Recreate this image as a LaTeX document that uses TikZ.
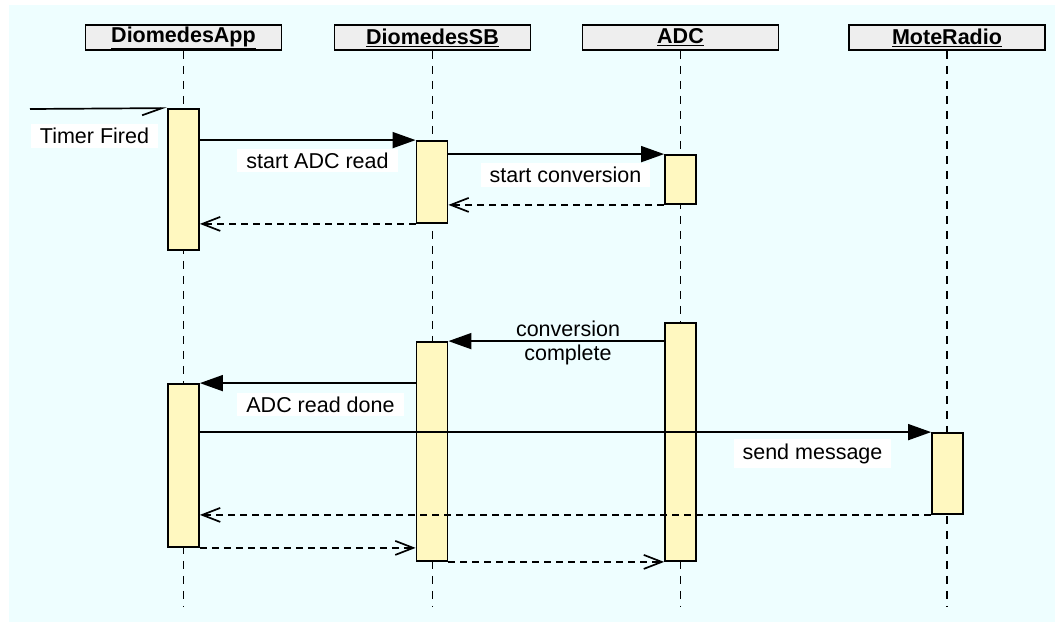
\documentclass[tikz,border=0pt]{standalone}
\usepackage{fontspec}
\setmainfont{Liberation Sans}
\usetikzlibrary{arrows.meta}
\definecolor{seqback}{HTML}{EEFEFF}
\definecolor{seqhead}{HTML}{EEEEEE}
\definecolor{seqbar}{HTML}{FFF8C0}
\tikzset{
    obj/.style={draw,line width=1.8pt,fill=seqhead,minimum width=196pt,minimum height=25pt,inner sep=0pt,font=\fontsize{21.5}{24}\selectfont\bfseries},
    lifeline/.style={line width=1.6pt,dash pattern=on 8pt off 7pt},
    act/.style={draw,line width=1.8pt,fill=seqbar,minimum width=31pt,inner sep=0pt},
    call/.style={line width=1.7pt,-{Triangle[length=23pt,width=16pt]}},
    reply/.style={line width=1.7pt,dash pattern=on 7pt off 5pt,-{Straight Barb[length=18pt,width=14pt,line width=1.7pt]}},
    found/.style={line width=1.7pt,-{Straight Barb[harpoon,swap,length=20pt,width=14pt,line width=1.7pt]}},
    msg/.style={fill=white,inner xsep=9pt,inner ysep=4pt,font=\fontsize{21.5}{24}\selectfont},
}

\begin{document}
\begin{tikzpicture}[x=1pt,y=-1pt]
    \fill[seqback] (9,5) rectangle (1055,622);
    \useasboundingbox (0,0) rectangle (1055,622);
    % objects
    \node[obj] (app) at (183.5,37.5) {\underline{DiomedesApp}};
    \node[obj] (sb) at (432.5,37.5) {\underline{DiomedesSB}};
    \node[obj] (adc) at (680.5,37.5) {\underline{ADC}};
    \node[obj] (radio) at (947,37.5) {\underline{MoteRadio}};
    \coordinate (bottom) at (0,607);
    \foreach \o in {app,sb,adc,radio}
        \draw[lifeline] (\o.south) -- (\o.south |- bottom);
    % activations
    \node[act,minimum height=141pt] (app1) at (183.5,179.5) {};
    \node[act,minimum height=82pt] (sb1) at (432,182) {};
    \node[act,minimum height=49pt] (adc1) at (680.5,179.5) {};
    \node[act,minimum height=238pt] (adc2) at (680.5,442) {};
    \node[act,minimum height=219pt] (sb2) at (432,451.5) {};
    \node[act,minimum height=163pt] (app2) at (183.5,465.5) {};
    \node[act,minimum height=81pt] (radio1) at (947.5,473.5) {};
    % messages
    \coordinate (ext) at (30,109);
    \draw[found] (ext) -- (app1.north west);
    \draw[call] (app1.east |- sb1.north west) -- (sb1.north west);
    \draw[call] (sb1.east |- adc1.north west) -- (adc1.north west);
    \draw[reply] (adc1.south west) -- (sb1.east |- adc1.south west);
    \draw[reply] (sb1.south west) -- (app1.east |- sb1.south west);
    \draw[call] (adc2.west |- sb2.north east) -- (sb2.north east);
    \draw[call] (sb2.west |- app2.north east) -- (app2.north east);
    \draw[call] (app2.east |- radio1.north west) -- (radio1.north west);
    \draw[reply] (radio1.south west) -- (app2.east |- radio1.south west);
    \draw[reply] (app2.south east) -- (sb2.west |- app2.south east);
    \draw[reply] (sb2.south east) -- (adc2.west |- sb2.south east);
    % labels
    \node[msg] (lbltimer) at (94.5,136) {Timer Fired};
    \node[msg] (lblread) at (317.5,160.5) {start ADC read};
    \node[msg] (lblconv) at (565.5,175) {start conversion};
    \node[align=center,font=\fontsize{21.5}{24}\selectfont] (lblcomplete) at (568,343) {conversion\\complete};
    \node[msg] (lbldone) at (320.5,404.5) {ADC read done};
    \node[msg] (lblsend) at (812.5,453.5) {send message};
\end{tikzpicture}
\end{document}
